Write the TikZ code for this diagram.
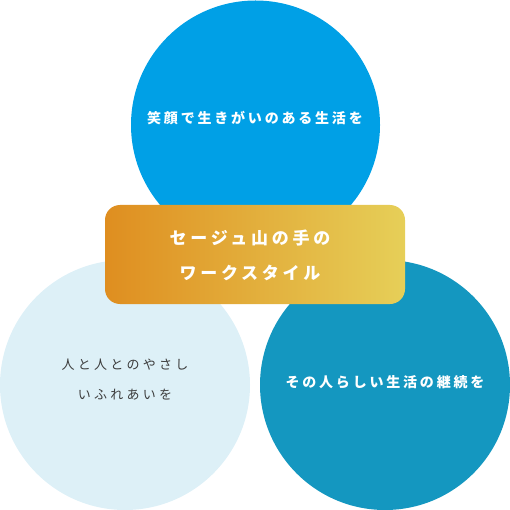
\documentclass[tikz,border=0pt]{standalone}
\usepackage{fontspec}
\setmainfont{Noto Sans CJK JP}
\usetikzlibrary{shadings}
\definecolor{topblue}{HTML}{00A0E6}
\definecolor{rightblue}{HTML}{1497C0}
\definecolor{leftblue}{HTML}{DDF0F7}
\definecolor{gradl}{HTML}{DF8E20}
\definecolor{gradr}{HTML}{E6CF58}
\definecolor{darktext}{HTML}{3C3C3C}
\tikzset{
  bubble/.style={draw=none},
  whitelabel/.style={text=white, font=\bfseries\fontsize{14}{16}\selectfont\addfontfeatures{LetterSpace=20}, inner sep=0pt},
  graylabel/.style={text=darktext, align=center, font=\fontsize{13}{30}\selectfont\addfontfeatures{LetterSpace=25}, inner sep=0pt},
  titlelabel/.style={text=white, align=center, font=\bfseries\fontsize{17}{35}\selectfont\addfontfeatures{LetterSpace=22}, inner sep=0pt},
}
\begin{document}
\begin{tikzpicture}[x=1pt,y=-1pt]
\useasboundingbox (0,0) rectangle (510,510);
\fill[topblue] (255.5,125) circle (124.5);
\fill[leftblue] (125,385) circle (125);
\fill[rightblue] (385,385) circle (125);
\shade[left color=gradl, right color=gradr, rounded corners=15pt] (105,205) rectangle (405,304);
\node[whitelabel] (top) at (255,118) {笑顔で生きがいのある生活を};
\node[graylabel] (left) at (125,380) {人と人とのやさし\\いふれあいを};
\node[whitelabel] (right) at (385,382) {その人らしい生活の継続を};
\node[titlelabel] (title) at (250,255) {セージュ山の手の\\ワークスタイル};
\end{tikzpicture}
\end{document}
